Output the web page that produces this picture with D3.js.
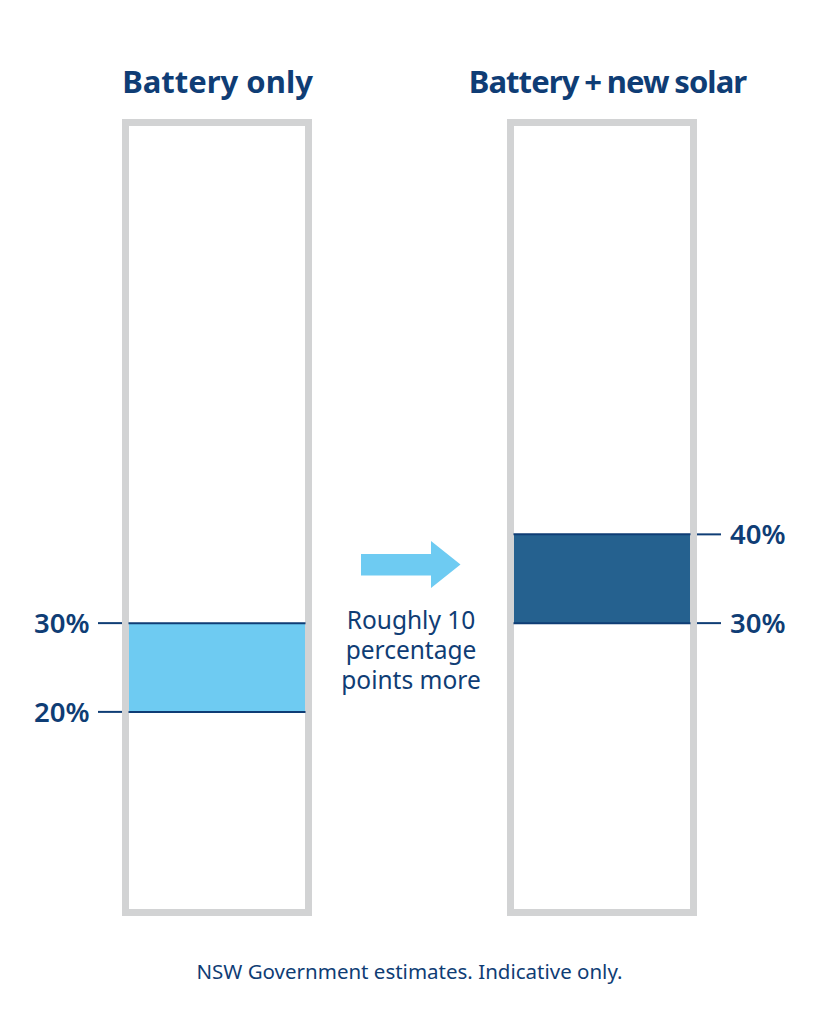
<!DOCTYPE html>
<html><head><meta charset="utf-8">
<style>html,body{margin:0;padding:0;background:#fff}svg{display:block}text{font-family:"Noto Sans","Open Sans",sans-serif}</style>
<script src="https://cdn.jsdelivr.net/npm/d3@7"></script>
</head><body><svg id="c" width="819" height="1024"></svg>
<script>
const panels = ["Battery only", "Battery + new solar"];
const lows = [20, 30];
const highs = [30, 40];
const fills = ["#6ecbf2", "#25618f"];
const annotation = ["Roughly 10", "percentage", "points more"];
const source = "NSW Government estimates. Indicative only.";
const scaleLimits = [-2.6, 86.4];

const navy = "#0f3d75", frameColor = "#d2d3d4";
const svg = d3.select("#c");
const y = d3.scaleLinear().domain(scaleLimits).range([912.5, 122.5]);
const boxLeft = d3.scaleOrdinal().domain(panels).range([125.5, 510.5]);
const boxW = 183;

panels.forEach((p, i) => {
  const L = boxLeft(p), R = L + boxW, g = svg.append("g");
  g.append("text").attr("x", i ? 607.5 : 217.5).attr("y", 92.5).attr("text-anchor", "middle")
    .attr("font-size", 31).attr("font-weight", 700).attr("word-spacing", i ? -1.5 : 0)
    .attr("letter-spacing", i ? -0.9 : 0).attr("fill", navy).text(p);
  g.append("rect").attr("x", L + 3).attr("width", boxW - 6)
    .attr("y", y(highs[i])).attr("height", y(lows[i]) - y(highs[i])).attr("fill", fills[i]);
  g.append("rect").attr("x", L).attr("y", y(scaleLimits[1])).attr("width", boxW)
    .attr("height", y(scaleLimits[0]) - y(scaleLimits[1]))
    .attr("fill", "none").attr("stroke", frameColor).attr("stroke-width", 7);
  [lows[i], highs[i]].forEach(v => {
    g.append("line").attr("x1", L + 3).attr("x2", R - 3).attr("y1", y(v)).attr("y2", y(v))
      .attr("stroke", navy).attr("stroke-width", 2);
    const x1 = i ? R + 3.5 : L - 27.5, x2 = i ? R + 27.5 : L - 3.5;
    g.append("line").attr("x1", x1).attr("x2", x2).attr("y1", y(v)).attr("y2", y(v))
      .attr("stroke", navy).attr("stroke-width", 2);
    g.append("text").attr("x", i ? R + 36.5 : L - 36).attr("y", y(v) + 10)
      .attr("text-anchor", i ? "start" : "end").attr("font-size", 27.5).attr("font-weight", 600)
      .attr("fill", navy).text(v + "%");
  });
});

// arrow between the panels
svg.append("path").attr("fill", "#6ecbf2")
  .attr("d", d3.line()([[361,554],[431,554],[431,541],[460.5,564.5],[431,588],[431,575.5],[361,575.5]]) + "Z");

svg.append("g").selectAll("text").data(annotation).join("text")
  .attr("x", 411).attr("y", (d, i) => 629 + i * 30).attr("text-anchor", "middle")
  .attr("font-size", 24.5).attr("fill", navy).text(d => d);

svg.append("text").attr("x", 409.5).attr("y", 979).attr("text-anchor", "middle")
  .attr("font-size", 20.5).attr("fill", navy).text(source);
</script></body></html>
